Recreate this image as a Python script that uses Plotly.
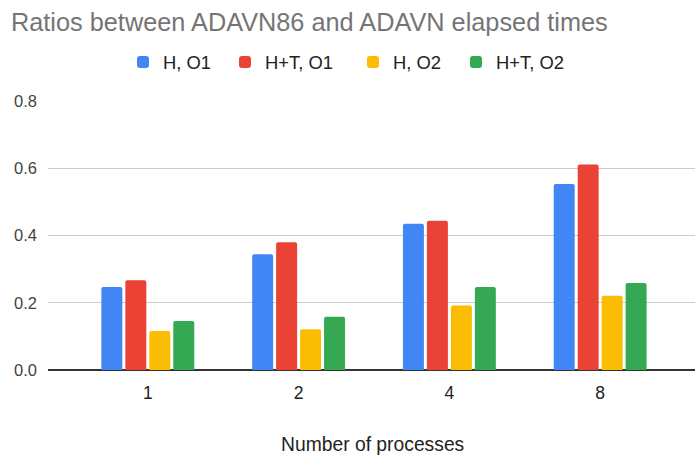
import plotly.graph_objects as go

categories = ["1", "2", "4", "8"]
series_names = ["H, O1", "H+T, O1", "H, O2", "H+T, O2"]
h_o1 = [0.247, 0.344, 0.435, 0.553]
ht_o1 = [0.267, 0.380, 0.444, 0.611]
h_o2 = [0.116, 0.121, 0.192, 0.221]
ht_o2 = [0.146, 0.158, 0.247, 0.259]
colors = ["#4285F4", "#EA4335", "#FBBC04", "#34A853"]
y_ticks = [0.0, 0.2, 0.4, 0.6, 0.8]

W, H = 695, 458
L, R, T, B = 48, 0, 101, 88
PW, PH = W - L - R, H - T - B

legend_square_center_px = [144, 246, 374, 477]
legend_ids = ["legend", "legend2", "legend3", "legend4"]

fig = go.Figure()
for name, vals, col, lg in zip(series_names, [h_o1, ht_o1, h_o2, ht_o2], colors, legend_ids):
    fig.add_trace(go.Bar(x=categories, y=vals, name=name, legend=lg,
                         marker=dict(color=col, line=dict(width=0))))

legend_layout = {}
for lg, sc in zip(legend_ids, legend_square_center_px):
    legend_layout[lg] = dict(orientation="h", x=(sc - 21 - L) / PW, xanchor="left",
                             y=1 + (T - 62) / PH, yanchor="middle",
                             bgcolor="rgba(0,0,0,0)",
                             font=dict(family="Arial", size=18.4, color="#222222"),
                             itemclick=False)

fig.update_layout(
    width=W, height=H,
    margin=dict(l=L, r=R, t=T, b=B, pad=0),
    paper_bgcolor="white", plot_bgcolor="white",
    font=dict(family="Arial", size=16, color="#444444"),
    barmode="group", bargap=0.364, bargroupgap=0.125,
    barcornerradius=2,
    title=dict(text="Ratios between ADAVN86 and ADAVN elapsed times",
               font=dict(family="Arial", size=25.3, color="#757575"),
               x=11 / W, xref="container", xanchor="left",
               y=1 - 22 / H, yref="container", yanchor="middle"),
    showlegend=True,
    **legend_layout,
)
fig.update_xaxes(type="category", range=[-0.662, 3.629], showgrid=False, showline=False,
                 ticks="", tickfont=dict(size=17.5, color="#222222"), ticklabelstandoff=10)
fig.update_yaxes(range=[0, 0.8], tickvals=y_ticks, ticktext=[f"{v:.1f}" for v in y_ticks],
                 showgrid=True, gridcolor="#cccccc", gridwidth=1,
                 zeroline=True, zerolinecolor="#333333", zerolinewidth=2,
                 showline=False, ticks="", ticklabelstandoff=10,
                 tickfont=dict(size=16.5, color="#444444"))
fig.add_annotation(text="Number of processes", xref="paper", yref="paper",
                   x=(372 - L) / PW, y=-(444 - (H - B)) / PH,
                   xanchor="center", yanchor="middle", showarrow=False,
                   font=dict(family="Arial", size=19.3, color="#222222"))

fig.write_html("out.html")
